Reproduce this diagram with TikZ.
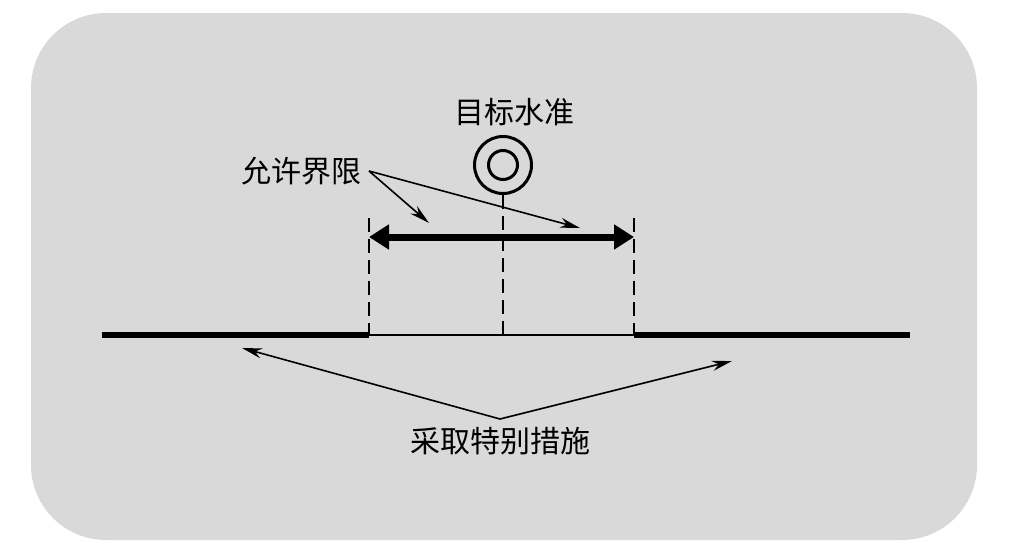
\documentclass[tikz,border=0pt]{standalone}
\usepackage{fontspec}
\setmainfont{Noto Sans CJK SC}
\usepackage{tikz}
\usetikzlibrary{arrows.meta}

\begin{document}
\begin{tikzpicture}[x=1pt,y=-1pt]
\useasboundingbox (0,0) rectangle (1009,554);
% Background panel
\fill[gray!30, rounded corners=75pt] (31,13) rectangle (977,540);

% Base line with the allowed band
\coordinate (bl) at (102,335);
\coordinate (lo) at (369,335);
\coordinate (mid) at (503,335);
\coordinate (hi) at (634,335);
\coordinate (br) at (910,335);
\draw[line width=5.5pt] (bl) -- (lo);
\draw[line width=5.5pt] (hi) -- (br);
\draw[line width=2pt] (lo) -- (hi);

% Target mark
\node (tgt) at (503,165) [circle,draw,line width=3pt,minimum size=57pt,inner sep=0pt]{};
\node at (tgt) [circle,draw,line width=3pt,minimum size=29pt,inner sep=0pt]{};
\node (tgtlabel) at (514,112) {\fontsize{30}{32}\selectfont 目标水准};

% Dashed limits
\coordinate (lotop) at (369,218);
\coordinate (hitop) at (634,218);
\draw[dashed,dash pattern=on 14pt off 7pt,line width=1.6pt] (lotop) -- (lo);
\draw[dashed,dash pattern=on 14pt off 7pt,line width=1.6pt] (hitop) -- (hi);
\draw[dashed,dash pattern=on 14pt off 7pt,line width=1.6pt] (tgt.south) -- (mid);

% Tolerance band arrow
\coordinate (bandl) at (369,237);
\coordinate (bandr) at (634,237);
\draw[{Triangle[length=20pt,width=24pt]}-{Triangle[length=20pt,width=24pt]},line width=7pt] (bandl) -- (bandr);

% Labels with pointers
\node (allow) at (301,171) {\fontsize{30}{32}\selectfont 允许界限};
\coordinate (allowtip) at (369,171);
\coordinate (pa) at (429,223);
\coordinate (pb) at (580,228);
\draw[-{Stealth[length=20pt,width=10pt]},line width=1.6pt] (allowtip) -- (pa);
\draw[-{Stealth[length=20pt,width=10pt]},line width=1.6pt] (allowtip) -- (pb);

\node (special) at (500,441) {\fontsize{30}{32}\selectfont 采取特别措施};
\coordinate (spectip) at (500,419);
\coordinate (sl) at (242,348);
\coordinate (sr) at (732,361);
\draw[-{Stealth[length=20pt,width=10pt]},line width=1.6pt] (spectip) -- (sl);
\draw[-{Stealth[length=20pt,width=10pt]},line width=1.6pt] (spectip) -- (sr);
\end{tikzpicture}
\end{document}
